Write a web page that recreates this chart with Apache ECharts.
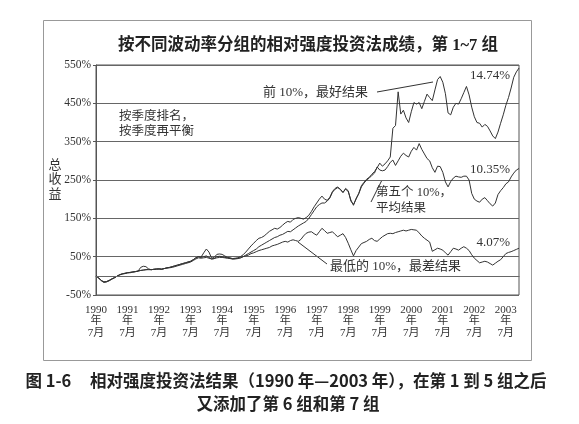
<!DOCTYPE html>
<html>
<head>
<meta charset="utf-8">
<script src="https://cdn.jsdelivr.net/npm/echarts@6/dist/echarts.min.js"></script>
<style>
html,body{margin:0;padding:0;background:#fff;}
#c{width:579px;height:424px;}
</style>
</head>
<body>
<div id="c"></div>
<script>
// ---- data (monthly, Jul 1990 .. Dec 2003), total return in % ----
const startYear = 1990, startMonth = 7, monthCount = 162;
const yearTickLabels = ['1990','1991','1992','1993','1994','1995','1996','1997','1998','1999','2000','2001','2002','2003'];
const months = [];
for (let i = 0; i < monthCount; i++) {
  const y = startYear + Math.floor((startMonth - 1 + i) / 12);
  const m = (startMonth - 1 + i) % 12 + 1;
  months.push(y + '-' + (m < 10 ? '0' + m : m));
}
// 前 10%, 最好结果
const topDecile = [
  0,-5,-12,-16,-15,-12,-8,-5,-1,3,5,6,8,9,10,11,12,
  22,25,24,18,
  16,17,18,18,17,19,21,22,24,26,28,30,32,34,36,38,42,47,50,49,
  60,70,62,46,48,56,57,56,52,48,47,45,46,47,
  50,55,62,70,78,85,92,98,100,104,110,116,120,124,122,126,132,138,142,140,147,150,152,150,148,152,158,168,180,190,200,208,200,197,
  205,220,228,232,225,217,228,222,195,186,200,215,235,244,252,257,265,272,282,294,
  286,292,300,310,385,392,480,422,432,412,400,428,452,448,452,436,455,474,465,457,485,512,520,505,475,425,420,440,450,448,462,478,494,472,440,415,400,398,388,395,390,378,365,358,375,398,420,445,465,490,518,532,542
];
// 第五个 10%, 平均结果
const fifthDecile = [
  0,-5,-12,-16,-15,-12,-8,-5,-1,3,5,6,8,8,10,11,12,14,15,16,17,16,17,18,18,17,19,21,22,24,26,28,30,32,34,36,38,42,47,50,48,50,52,48,44,45,50,51,50,48,47,46,44,45,46,
  47,50,54,58,62,66,70,76,80,84,88,92,96,100,102,106,108,112,116,115,120,125,130,134,138,142,150,160,170,180,186,190,190,195,
  203,218,226,230,226,218,226,220,198,184,202,214,232,242,250,255,262,268,284,276,
  274,276,285,296,302,288,300,312,320,314,310,325,335,328,345,330,318,306,300,282,270,286,285,270,245,232,246,255,260,258,257,260,260,250,215,200,195,192,200,204,196,188,182,190,212,222,230,240,245,258,268,276,280
];
// 最低的 10%, 最差结果
const bottomDecile = [
  0,-6,-13,-17,-16,-13,-9,-5,-1,2,5,7,8,9,10,11,13,14,15,16,16,16,17,17,18,18,19,20,
  21,22,24,26,28,30,32,34,36,40,44,47,46,47,48,46,44,45,47,48,48,47,46,45,44,44,45,
  47,50,52,54,58,60,63,66,68,70,
  72,74,78,80,82,85,88,90,88,92,
  94,92,90,95,104,111,114,115,110,106,
  115,124,118,111,113,115,108,102,106,110,
  100,85,68,52,66,75,84,87,90,95,
  98,92,90,96,102,106,110,111,110,113,
  115,117,119,117,119,121,120,119,112,104,
  98,93,88,64,68,72,70,67,60,54,
  63,72,70,67,72,76,72,66,55,46,
  40,34,36,38,36,32,28,33,38,42,
  50,58,61,63,66,69,72
];
const yTicks = { min: -50, max: 550, interval: 100 };
const endLabels = ['14.74%', '10.35%', '4.07%'];

// ---- chart ----
const serif = "'Liberation Serif','Noto Sans CJK SC',serif";
const cjk = "'Liberation Serif','Noto Sans CJK SC',serif";
const lineColor = '#333';
const chart = echarts.init(document.getElementById('c'));
function mkSeries(name, data, extra) {
  return Object.assign({
    name: name, type: 'line', data: data, symbol: 'none', smooth: false,
    lineStyle: { color: lineColor, width: 1 }, animation: false, silent: true
  }, extra || {});
}
chart.setOption({
  backgroundColor: '#fff',
  animation: false,
  grid: { left: 96, right: 60, top: 65, bottom: 129, show: true, borderColor: '#555', borderWidth: 1 },
  xAxis: {
    type: 'category', data: months, boundaryGap: false,
    axisLine: { show: true, lineStyle: { color: '#555', width: 1 } },
    axisTick: { show: false },
    splitLine: { show: false },
    axisLabel: {
      interval: function (idx) { return idx % 12 === 0; },
      formatter: function (v) { return v.slice(0, 4) + '\n年\n7月'; },
      fontFamily: serif, fontSize: 11, color: '#333', lineHeight: 11.5, margin: 9
    }
  },
  yAxis: {
    type: 'value', min: yTicks.min, max: yTicks.max, interval: yTicks.interval,
    axisLine: { show: true, lineStyle: { color: '#555', width: 1 } },
    axisTick: { show: true, length: 3, lineStyle: { color: '#555' } },
    splitLine: { show: true, lineStyle: { color: '#666', width: 1 } },
    axisLabel: { formatter: '{value}%', fontFamily: serif, fontSize: 11.5, color: '#333', margin: 5 }
  },
  series: [
    mkSeries('前 10%', topDecile, {
      markLine: { silent: true, symbol: 'none', label: { show: false },
        lineStyle: { color: '#666', width: 1, type: 'solid' }, data: [{ yAxis: 0 }] }
    }),
    mkSeries('第五个 10%', fifthDecile),
    mkSeries('最低的 10%', bottomDecile)
  ],
  graphic: [
    { type: 'rect', shape: { x: 43.5, y: 20.5, width: 488, height: 340 }, style: { fill: 'none', stroke: '#999', lineWidth: 1 }, silent: true },
    { type: 'text', x: 308, y: 46, style: { text: '按不同波动率分组的相对强度投资法成绩，第 1~7 组', fontFamily: cjk, fontSize: 16.5, fontWeight: 'bold', fill: '#222', textAlign: 'center', textVerticalAlign: 'middle' } },
    { type: 'text', x: 55, y: 180, style: { text: '总\n收\n益', fontFamily: cjk, fontSize: 13, lineHeight: 14.5, fill: '#333', textAlign: 'center', textVerticalAlign: 'middle' } },
    { type: 'text', x: 119, y: 117, style: { text: '按季度排名，', fontFamily: cjk, fontSize: 12.5, fill: '#333', textVerticalAlign: 'middle' } },
    { type: 'text', x: 119, y: 132, style: { text: '按季度再平衡', fontFamily: cjk, fontSize: 12.5, fill: '#333', textVerticalAlign: 'middle' } },
    { type: 'text', x: 263, y: 93, style: { text: '前 10%，最好结果', fontFamily: cjk, fontSize: 13, fill: '#333', textVerticalAlign: 'middle' } },
    { type: 'line', shape: { x1: 377, y1: 92, x2: 433, y2: 82 }, style: { stroke: '#333', lineWidth: 1 } },
    { type: 'text', x: 376, y: 193, style: { text: '第五个 10%，', fontFamily: cjk, fontSize: 12.5, fill: '#333', textVerticalAlign: 'middle' } },
    { type: 'text', x: 376, y: 209, style: { text: '平均结果', fontFamily: cjk, fontSize: 12.5, fill: '#333', textVerticalAlign: 'middle' } },
    { type: 'line', shape: { x1: 371, y1: 202, x2: 382, y2: 180 }, style: { stroke: '#333', lineWidth: 1 } },
    { type: 'text', x: 330, y: 267, style: { text: '最低的 10%，最差结果', fontFamily: cjk, fontSize: 13, fill: '#333', textVerticalAlign: 'middle' } },
    { type: 'line', shape: { x1: 298, y1: 242, x2: 327, y2: 264 }, style: { stroke: '#333', lineWidth: 1 } },
    { type: 'text', x: 510, y: 76, style: { text: endLabels[0], fontFamily: serif, fontSize: 13, fill: '#333', textAlign: 'right', textVerticalAlign: 'middle' } },
    { type: 'text', x: 510, y: 170, style: { text: endLabels[1], fontFamily: serif, fontSize: 13, fill: '#333', textAlign: 'right', textVerticalAlign: 'middle' } },
    { type: 'text', x: 510, y: 243, style: { text: endLabels[2], fontFamily: serif, fontSize: 13, fill: '#333', textAlign: 'right', textVerticalAlign: 'middle' } },
    { type: 'text', x: 286, y: 381, style: { text: '图 1-6     相对强度投资法结果（1990 年—2003 年），在第 1 到 5 组之后', fontFamily: "'Noto Sans CJK SC',sans-serif", fontSize: 16.5, fontWeight: 'bold', fill: '#222', textAlign: 'center', textVerticalAlign: 'middle' } },
    { type: 'text', x: 288, y: 404, style: { text: '又添加了第 6 组和第 7 组', fontFamily: "'Noto Sans CJK SC',sans-serif", fontSize: 16.5, fontWeight: 'bold', fill: '#222', textAlign: 'center', textVerticalAlign: 'middle' } }
  ]
});
</script>
</body>
</html>
